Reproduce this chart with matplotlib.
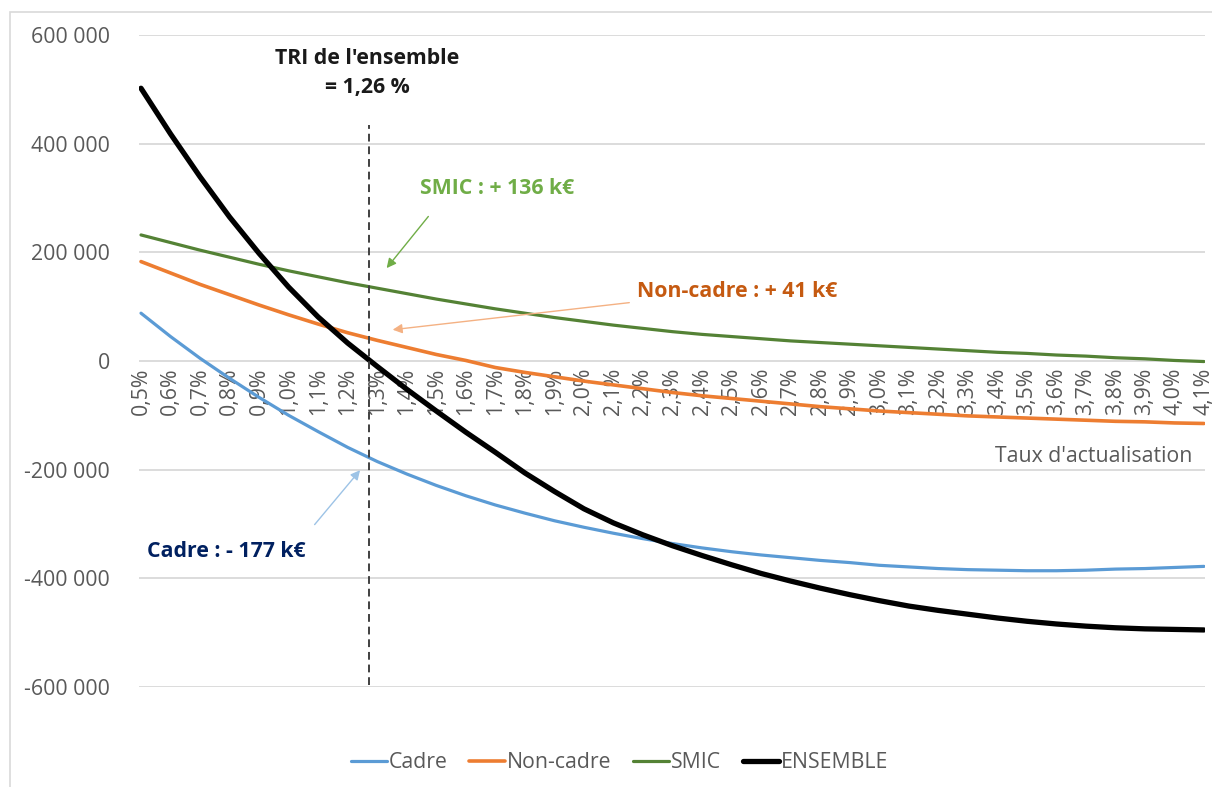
import matplotlib
matplotlib.use("Agg")
import matplotlib.pyplot as plt
from matplotlib.patches import Rectangle

plt.rcParams['font.family'] = ['Open Sans', 'DejaVu Sans']

# ---------------- data ----------------
taux = ["0,5%", "0,6%", "0,7%", "0,8%", "0,9%", "1,0%", "1,1%", "1,2%", "1,3%", "1,4%",
        "1,5%", "1,6%", "1,7%", "1,8%", "1,9%", "2,0%", "2,1%", "2,2%", "2,3%", "2,4%",
        "2,5%", "2,6%", "2,7%", "2,8%", "2,9%", "3,0%", "3,1%", "3,2%", "3,3%", "3,4%",
        "3,5%", "3,6%", "3,7%", "3,8%", "3,9%", "4,0%", "4,1%"]

cadre = [88, 45, 5, -32, -67, -100, -130, -159, -185, -208,
         -229, -248, -265, -280, -294, -306, -317, -327, -336, -344,
         -351, -357, -362, -367, -371, -376, -379, -382, -384, -385,
         -386, -386, -385, -383, -382, -380, -378]

non_cadre = [183, 162, 141, 122, 103, 85, 68, 52, 38, 25,
             12, 1, -12, -21, -29, -37, -44, -51, -58, -64,
             -69, -74, -79, -84, -88, -92, -95, -98, -101, -103,
             -105, -107, -109, -111, -112, -114, -115]

smic = [232, 218, 204, 191, 178, 166, 155, 144, 134, 124,
        114, 105, 96, 88, 80, 73, 66, 60, 54, 49,
        45, 41, 37, 34, 31, 28, 25, 22, 19, 16,
        14, 11, 9, 6, 4, 1, -1]

ensemble = [502, 418, 339, 265, 198, 136, 81, 33, -10, -52,
            -92, -131, -168, -206, -240, -272, -298, -320, -340, -358,
            -375, -391, -405, -418, -430, -441, -451, -459, -466, -473,
            -479, -484, -488, -491, -493, -494, -495]

series_names = ["Cadre", "Non-cadre", "SMIC", "ENSEMBLE"]
y_ticks = [-600000, -400000, -200000, 0, 200000, 400000, 600000]
y_ticklabels = ["-600 000", "-400 000", "-200 000", "0", "200 000", "400 000", "600 000"]

tri_label = "TRI de l'ensemble\n= 1,26 %"
tri_pos = 7.72  # position of the TRI marker line on the category axis

annot_smic = "SMIC : + 136 k\u20ac"
annot_noncadre = "Non-cadre : + 41 k\u20ac"
annot_cadre = "Cadre : - 177 k\u20ac"
xlabel = "Taux d'actualisation"

# ---------------- figure ----------------
W, H = 1212, 787
fig = plt.figure(figsize=(W / 100, H / 100), dpi=100)

# chart area border
fig.patches.append(Rectangle((10 / W, -0.05), 1.2, 1 - 12 / H + 0.05,
                             transform=fig.transFigure, fill=False,
                             edgecolor="#D9D9D9", lw=1.2, zorder=0))

ax = fig.add_axes([139 / W, 100 / H, 1066 / W, 652 / H])
ax.set_xlim(-2 / 29.53, 36 + 1 / 29.53)
ax.set_ylim(-600000, 600000)

x = list(range(len(taux)))
k = 1000
colors = ["#5B9BD5", "#ED7D31", "#548235", "#000000"]
widths = [2.3, 2.6, 2.3, 3.8]
for vals, name, c, lw in zip([cadre, non_cadre, smic, ensemble], series_names, colors, widths):
    ax.plot(x, [v * k for v in vals], color=c, lw=lw, label=name,
            solid_capstyle="round", solid_joinstyle="round", zorder=3)

FS = 15.3

# grid
ax.set_yticks(y_ticks)
ax.set_yticklabels(y_ticklabels)
ax.yaxis.grid(True, color="#D9D9D9", lw=1.3)
ax.set_axisbelow(True)
for s in ax.spines.values():
    s.set_visible(False)
ax.spines["bottom"].set_position(("data", 0))
ax.set_xticks(x)
ax.set_xticklabels(taux, rotation=90, va="top", ha="center")
ax.tick_params(axis="x", length=0, pad=5, labelsize=FS, labelcolor="#595959")
ax.tick_params(axis="y", length=0, pad=21, labelsize=FS, labelcolor="#595959")

# TRI line
ax.vlines(tri_pos, -596000, 434000, colors="#404040", linestyles=(0, (4, 2.5)), lw=1.4, zorder=5)
ax.text(tri_pos - 0.05, 530000, tri_label, ha="center", va="center", fontsize=FS,
        fontweight="bold", color="#1a1a1a", linespacing=1.45)

# annotations
ax.annotate("", xy=(8.26, 167000), xytext=(9.79, 270000),
            arrowprops=dict(arrowstyle="-|>", color="#70AD47", lw=1.0, mutation_scale=14))
ax.text(9.45, 318000, annot_smic, ha="left", va="center", fontsize=FS,
        fontweight="bold", color="#70AD47")

ax.annotate("", xy=(8.43, 57000), xytext=(16.63, 108000),
            arrowprops=dict(arrowstyle="-|>", color="#F4B183", lw=1.0, mutation_scale=14))
ax.text(16.8, 127000, annot_noncadre, ha="left", va="center", fontsize=FS,
        fontweight="bold", color="#C55A11")

ax.annotate("", xy=(7.48, -197000), xytext=(5.82, -305000),
            arrowprops=dict(arrowstyle="-|>", color="#9DC3E6", lw=1.0, mutation_scale=14))
ax.text(0.2, -350000, annot_cadre, ha="left", va="center", fontsize=FS,
        fontweight="bold", color="#002060")

ax.text(35.6, -175000, xlabel, ha="right", va="center", fontsize=FS, color="#595959")

# legend
leg = fig.legend(loc="center", bbox_to_anchor=(0.511, 1 - 763 / H), ncol=4, frameon=False,
                 fontsize=FS, handlelength=1.7, handletextpad=0.1, columnspacing=1.0)
for t in leg.get_texts():
    t.set_color("#595959")

fig.savefig("out.png", dpi=100)
